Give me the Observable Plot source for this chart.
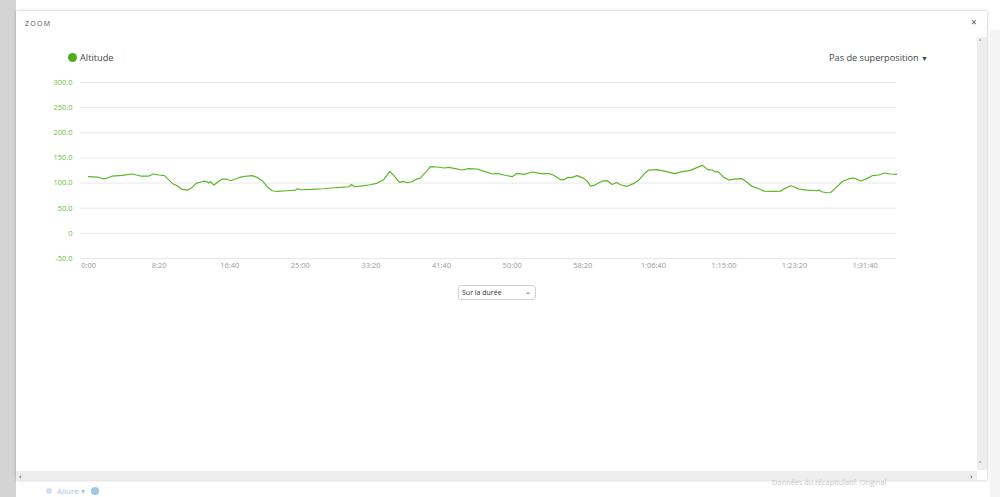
<!DOCTYPE html>
<html>
<head>
<meta charset="utf-8">
<script src="https://cdn.jsdelivr.net/npm/d3@7"></script>
<script src="https://cdn.jsdelivr.net/npm/@observablehq/plot@0.6"></script>
<style>
  html, body { margin: 0; padding: 0; width: 1000px; height: 497px; overflow: hidden; background: #fff; font-family: "Open Sans", "Noto Sans", sans-serif; }
  .abs { position: absolute; }
  #leftStrip { left: 0; top: 0; width: 16px; height: 497px; background: #d4d4d4; }
  #rightStrip { left: 990px; top: 30px; width: 10px; height: 467px; background: #f4f4f4; }
  #modal { left: 16px; top: 11px; width: 971px; height: 469px; background: #fff; box-shadow: 0 0 3px rgba(0,0,0,0.25); }
  #zoomTitle { left: 25px; top: 19px; font-size: 7px; letter-spacing: 1.3px; color: #555; }
  #close { left: 971px; top: 15px; font-size: 10px; color: #555; }
  #vscroll { left: 977px; top: 37px; width: 10px; height: 433px; background: #eeeeee; }
  #hscroll { left: 16px; top: 471px; width: 961px; height: 9px; background: #eeeeee; }
  .arrow { font-size: 8px; color: #333; }
  #legend { left: 68px; top: 51px; font-size: 9.2px; color: #444; display: flex; align-items: center; }
  #legend .dot { width: 9px; height: 9px; border-radius: 50%; background: #4daf1c; margin-right: 3px; }
  #overlay { left: 829px; top: 51px; font-size: 9.2px; color: #444; }
  #overlay .tri { font-size: 7px; }
  #chart { left: 0; top: 70px; }
  #select { left: 458px; top: 285px; width: 78px; height: 15px; border: 1px solid #d0d0d0; border-radius: 3px; font-size: 7px; color: #333; box-sizing: border-box; padding: 2px 0 0 3px; }
  #select .chev { position: absolute; right: 4px; top: 1px; font-size: 7px; color: #444; }
  #allure { left: 46px; top: 485px; font-size: 8px; color: #aac4dd; display: flex; align-items: center; }
  #allure .dot { width: 6px; height: 6px; border-radius: 50%; background: #cfe3f3; margin-right: 5px; }
  #allure .q { width: 8px; height: 8px; border-radius: 50%; background: #9ec6ea; margin-left: 6px; }
  #summary { left: 772px; top: 477px; font-size: 7.3px; color: #c8c8c8; }
</style>
</head>
<body>
<div id="leftStrip" class="abs"></div>
<div id="rightStrip" class="abs"></div>
<div id="modal" class="abs"></div>
<div id="zoomTitle" class="abs">ZOOM</div>
<div id="close" class="abs">×</div>
<div id="vscroll" class="abs"><div class="arrow abs" style="left:2px;top:0px">˄</div><div class="arrow abs" style="left:2px;top:422px">˅</div></div>
<div id="hscroll" class="abs"><div class="arrow abs" style="left:3px;top:-1px">‹</div><div class="arrow abs" style="left:954px;top:-1px">›</div></div>
<div id="legend" class="abs"><span class="dot"></span><span>Altitude</span></div>
<div id="overlay" class="abs">Pas de superposition <span class="tri">▼</span></div>
<div id="chart" class="abs"></div>
<div id="select" class="abs">Sur la durée<span class="chev">⌄</span></div>
<div id="allure" class="abs"><span class="dot"></span><span>Allure ▾</span><span class="q"></span></div>
<div id="summary" class="abs">Données du récapitulatif: Original</div>
<script>
// elapsed time in seconds
const seconds = [0, 61, 97, 120, 168, 238, 309, 368, 427, 458, 498, 538, 593, 628, 663, 703, 734, 765, 805, 822, 840, 852, 864, 888, 911, 947, 977, 1006, 1041, 1076, 1124, 1159, 1194, 1230, 1265, 1301, 1336, 1407, 1466, 1482, 1501, 1572, 1667, 1737, 1785, 1844, 1863, 1884, 1926, 1997, 2044, 2087, 2115, 2134, 2162, 2203, 2229, 2257, 2292, 2323, 2347, 2387, 2422, 2469, 2517, 2552, 2587, 2646, 2693, 2753, 2800, 2864, 2894, 2941, 3000, 3036, 3083, 3142, 3201, 3260, 3291, 3343, 3366, 3395, 3418, 3461, 3508, 3532, 3555, 3579, 3638, 3673, 3709, 3739, 3768, 3810, 3862, 3897, 3933, 3968, 4027, 4086, 4150, 4204, 4263, 4311, 4346, 4386, 4417, 4440, 4457, 4499, 4535, 4570, 4629, 4665, 4700, 4747, 4783, 4854, 4901, 4936, 4972, 4995, 5031, 5090, 5160, 5177, 5191, 5231, 5255, 5290, 5337, 5385, 5420, 5472, 5515, 5550, 5597, 5637, 5680, 5722];
// altitude in metres
const altitude = [112.7, 112, 109, 108.7, 114, 115.3, 118, 114, 114, 118, 116, 114.7, 99.3, 94.7, 87.3, 86, 91.3, 100, 102.7, 104, 102.7, 100, 102.7, 96, 101.3, 108, 108, 104.7, 108, 112, 114, 114.7, 111.3, 104.7, 92.7, 84.7, 83.3, 84.7, 86, 88.7, 86.7, 87.3, 88.7, 90.7, 91.3, 92.7, 97.3, 92.7, 94, 96.7, 100, 106, 116, 123.3, 114.7, 101.3, 103.3, 100.7, 102.7, 108, 109.3, 121.3, 132.7, 132, 130, 131.3, 129.3, 126, 128.7, 128, 123.3, 118, 119.3, 116, 112.7, 119.3, 117.3, 122, 118.7, 118.7, 116, 106.7, 106.7, 111.3, 110.7, 114.7, 109.3, 103.3, 94, 95.3, 104, 104.7, 97.3, 101.3, 96.7, 93.3, 99.3, 106, 118, 126, 126.7, 123.3, 118.7, 122.7, 125.3, 131.3, 135.3, 126.7, 126, 122, 122.7, 111.3, 106, 108, 108.7, 101.3, 93.3, 88.7, 84, 83.3, 84, 90, 94.7, 92.7, 88, 86, 84.7, 86, 82.7, 80.7, 81.3, 90, 102.7, 108.7, 110, 104, 109.3, 114.7, 116, 120, 118, 117.3];
const yTicks = [-50, 0, 50, 100, 150, 200, 250, 300];
const xTicks = [0, 500, 1000, 1500, 2000, 2500, 3000, 3500, 4000, 4500, 5000, 5500];

const data = seconds.map((s, i) => ({s, a: altitude[i]}));

function fmtTime(t) {
  const h = Math.floor(t / 3600), m = Math.floor((t % 3600) / 60), s = t % 60;
  const ss = String(s).padStart(2, "0");
  return h > 0 ? `${h}:${String(m).padStart(2, "0")}:${ss}` : `${m}:${ss}`;
}

const chart = Plot.plot({
  width: 920,
  height: 208,
  marginLeft: 80,
  marginRight: 24,
  marginTop: 12,
  marginBottom: 20,
  style: {fontFamily: "'Open Sans', sans-serif", fontSize: "7.5px", background: "transparent"},
  x: {domain: [-57, 5722], ticks: xTicks, tickFormat: fmtTime, label: null},
  y: {domain: [-50, 300], ticks: yTicks, tickFormat: d => d === 0 ? "0" : d.toFixed(1), label: null},
  marks: [
    Plot.ruleY(yTicks, {stroke: "#e8e8e8", strokeWidth: 1}),
    Plot.axisY({ticks: yTicks, tickFormat: d => d === 0 ? "0" : d.toFixed(1), tickSize: 0, tickPadding: 8, color: "#6cbd3a", label: null}),
    Plot.axisX({ticks: xTicks, tickFormat: fmtTime, tickSize: 0, tickPadding: 4, color: "#999", label: null}),
    Plot.line(data, {x: "s", y: "a", stroke: "#5cb52a", strokeWidth: 1.2, curve: "linear"})
  ]
});
document.getElementById("chart").appendChild(chart);
</script>
</body>
</html>
